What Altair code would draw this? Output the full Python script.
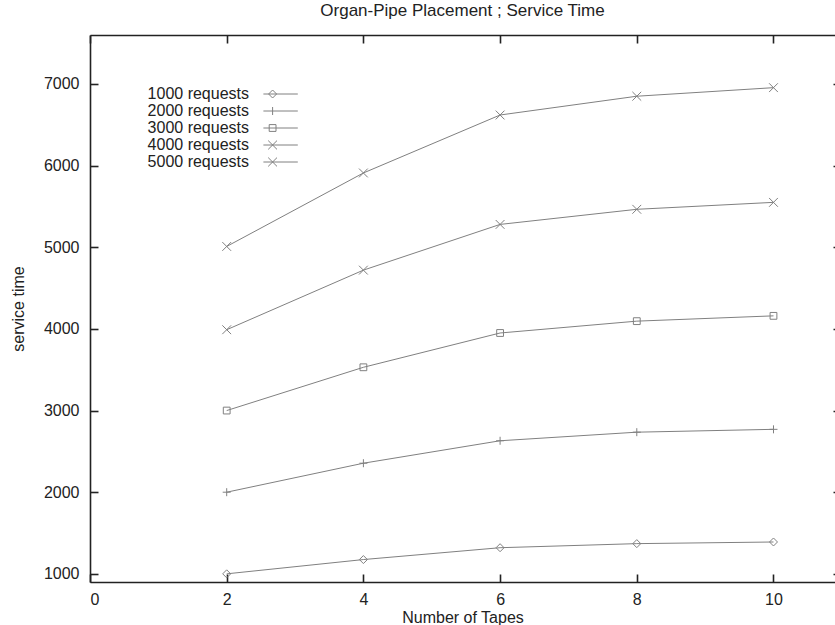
import altair as alt
import pandas as pd

# ---------------- data ----------------
tapes = [2, 4, 6, 8, 10]
series_names = ["1000 requests", "2000 requests", "3000 requests",
                "4000 requests", "5000 requests"]
time_1000 = [1000, 1175, 1320, 1370, 1390]
time_2000 = [2000, 2355, 2630, 2735, 2770]
time_3000 = [3000, 3530, 3950, 4095, 4160]
time_4000 = [3990, 4720, 5280, 5465, 5550]
time_5000 = [5010, 5910, 6620, 6850, 6955]
x_ticks = [0, 2, 4, 6, 8, 10]
y_ticks = [1000, 2000, 3000, 4000, 5000, 6000, 7000]

rows = []
for name, vals in zip(series_names, [time_1000, time_2000, time_3000, time_4000, time_5000]):
    for t, v in zip(tapes, vals):
        rows.append({"tapes": t, "time": v, "series": name})
df = pd.DataFrame(rows)
df["series_pt"] = df["series"]
df["series_leg"] = df["series"]

# ---------------- styles ----------------
FONT = "Liberation Sans"
GRAY = "#808080"
INK = "#222222"
W, H = 745, 547

marker_paths = [
    "M0,-1L1,0L0,1L-1,0Z",                       # diamond
    "M-1,0H1M0,-1V1",                             # plus
    "M-0.85,-0.85H0.85V0.85H-0.85Z",              # square
    "M-1.1,-1.1L1.1,1.1M-1.1,1.1L1.1,-1.1",       # x
    "M-1.1,-1.1L1.1,1.1M-1.1,1.1L1.1,-1.1",       # x
]
# legend sample: line + marker, drawn to the right of the (right-aligned) label
S = 9.9           # shift of sample centre (in marker units, 4 px each)
C = S - 2.0       # marker centre
LINE = f"M{S-4.3},0H{S+4.3}"
legend_paths = [
    LINE + f"M{C},-1L{C+1},0L{C},1L{C-1},0Z",
    LINE + f"M{C},-1V1",
    LINE + f"M{C-0.85},-0.85H{C+0.85}V0.85H{C-0.85}Z",
    LINE + f"M{C-1.1},-1.1L{C+1.1},1.1M{C-1.1},1.1L{C+1.1},-1.1",
    LINE + f"M{C-1.1},-1.1L{C+1.1},1.1M{C-1.1},1.1L{C+1.1},-1.1",
]

xs = alt.Scale(domain=[0, 10.9], nice=False, zero=False)
ys = alt.Scale(domain=[900, 7600], nice=False, zero=False)

lines = alt.Chart(df).mark_line(color=GRAY, strokeWidth=1).encode(
    x=alt.X("tapes:Q", scale=xs,
            axis=alt.Axis(orient="bottom", values=x_ticks, title="Number of Tapes",
                          ticks=False, tickSize=0, labelPadding=9,
                          titleY=35, titleBaseline="middle",
                          grid=False, domain=True, format="d")),
    y=alt.Y("time:Q", scale=ys,
            axis=alt.Axis(orient="left", values=y_ticks, title="service time",
                          ticks=False, tickSize=0, labelPadding=11, titlePadding=17,
                          grid=False, domain=True, format="d")),
    detail="series:N",
)

pts = alt.Chart(df).mark_point(filled=False, size=64, color=GRAY, strokeWidth=1, opacity=1).encode(
    x=alt.X("tapes:Q", scale=xs,
            axis=alt.Axis(orient="top", offset=-H, values=x_ticks, labels=False, title="",
                          domain=False, grid=False, ticks=True, tickSize=8)),
    y=alt.Y("time:Q", scale=ys,
            axis=alt.Axis(orient="right", offset=-W, values=y_ticks, labels=False, title="",
                          domain=False, grid=False, ticks=True, tickSize=8)),
    shape=alt.Shape("series_pt:N", scale=alt.Scale(domain=series_names, range=marker_paths),
                    legend=None),
)

leg = alt.Chart(df).mark_point(filled=False, size=64, color=GRAY, strokeWidth=1, opacity=0).encode(
    x=alt.X("tapes:Q", scale=xs,
            axis=alt.Axis(orient="bottom", offset=-H, values=x_ticks, labels=False, title="",
                          domain=True, grid=False, ticks=True, tickSize=8)),
    y=alt.Y("time:Q", scale=ys,
            axis=alt.Axis(orient="left", offset=-W, values=y_ticks, labels=False, title="",
                          domain=False, grid=False, ticks=True, tickSize=2)),
    shape=alt.Shape("series_leg:N", scale=alt.Scale(domain=series_names, range=legend_paths),
                    legend=alt.Legend(title=None, orient="none", legendX=143, legendY=51,
                                      labelAlign="right", labelOffset=0,
                                      symbolOpacity=1, symbolStrokeColor=GRAY,
                                      symbolStrokeWidth=1, symbolFillColor="transparent",
                                      symbolSize=64, labelFontSize=16, labelFont=FONT,
                                      labelColor=INK, rowPadding=1, padding=0,
                                      labelLimit=300)),
)

chart = alt.layer(lines, pts, leg).resolve_scale(
    shape="independent"
).resolve_axis(
    x="independent", y="independent"
).properties(
    width=W, height=H,
    autosize=alt.AutoSizeParams(type="none"),
    padding={"left": 90, "top": 35, "right": 0, "bottom": 43},
    title=alt.TitleParams("Organ-Pipe Placement ; Service Time", fontSize=17,
                          fontWeight="normal", font=FONT, color=INK, anchor="middle",
                          offset=14),
).configure_view(
    strokeWidth=0
).configure_axis(
    labelFont=FONT, titleFont=FONT, labelFontSize=16, titleFontSize=16,
    labelColor=INK, titleColor=INK, titleFontWeight="normal",
    domainColor=INK, domainWidth=1.6, tickColor=INK, tickWidth=1.6,
)

chart.save("out.html", embed_options={"renderer": "svg", "actions": False})
